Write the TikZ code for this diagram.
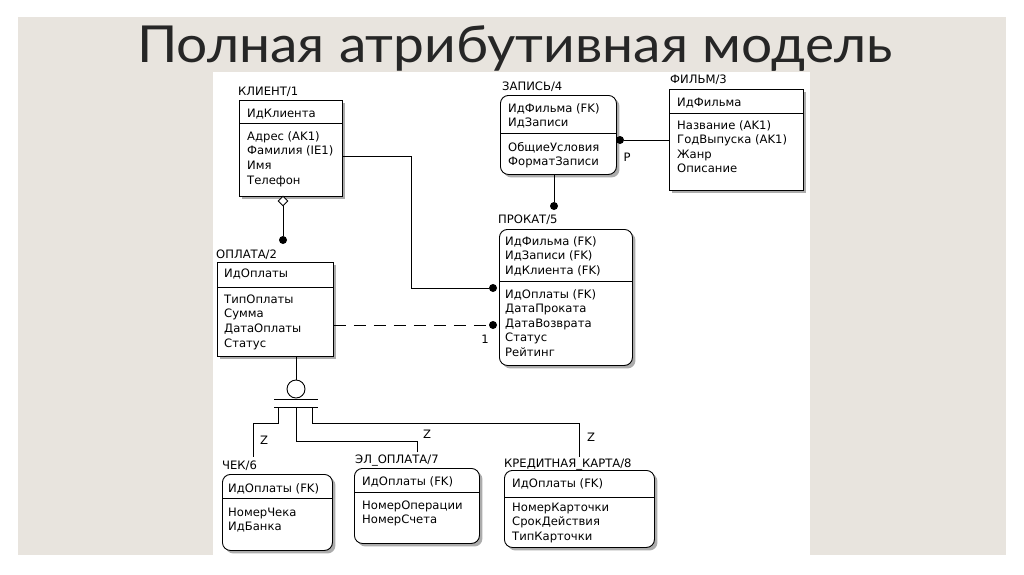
\documentclass[tikz,border=0pt]{standalone}
\usepackage{fontspec}
\usepackage{tikz}
\usetikzlibrary{arrows.meta, positioning, shapes.geometric, shadows}
\newfontfamily\erfont{DejaVu Sans}
\newfontfamily\titlefont[FakeStretch=1.08]{Lato}
\definecolor{slidebg}{HTML}{E8E4DE}

\begin{document}
\begin{tikzpicture}[
  x=1pt, y=-1pt,
  ent/.style={draw, line width=0.9pt, fill=white, anchor=north west, inner sep=0,
    general shadow={shadow xshift=3pt, shadow yshift=-3pt, fill=gray!65}},
  indep/.style={ent},
  dep/.style={ent, rounded corners=8pt},
  lbl/.style={font=\erfont\fontsize{11.6}{14.6}\selectfont, anchor=base west, inner sep=0, align=left},
  rel/.style={line width=0.9pt},
  dot/.style={circle, fill, inner sep=0, minimum size=8pt},
  nulldia/.style={diamond, draw, fill=white, line width=0.9pt, inner sep=0, minimum size=10pt}
]
  % Slide background
  \fill[white] (0,0) rectangle (1024,574);
  \fill[slidebg] (18,17) rectangle (1006,555);
  \fill[white] (213,72) rectangle (810,555);
  \node[font=\titlefont\fontsize{51}{51}\selectfont, anchor=base west, inner sep=0, text=black!85] (title) at (137,62) {Полная атрибутивная модель};

  % Entities
  \node[indep, minimum width=103pt, minimum height=96pt] (klient) at (239,100) {};
  \node[indep, minimum width=116pt, minimum height=94pt] (oplata) at (217,262) {};
  \node[dep, minimum width=116pt, minimum height=79pt] (zapis) at (500,95) {};
  \node[indep, minimum width=134pt, minimum height=101pt] (film) at (669,89) {};
  \node[dep, minimum width=133pt, minimum height=136pt] (prokat) at (499,229) {};
  \node[dep, minimum width=110pt, minimum height=76pt] (chek) at (222,474) {};
  \node[dep, minimum width=125pt, minimum height=75pt] (elopl) at (354,468) {};
  \node[dep, minimum width=150pt, minimum height=77pt] (kkarta) at (504,470) {};

  % Key / non-key dividers
  \draw[rel] (klient.west |- 0,123) -- (klient.east |- 0,123);
  \draw[rel] (oplata.west |- 0,287) -- (oplata.east |- 0,287);
  \draw[rel] (zapis.west |- 0,133) -- (zapis.east |- 0,133);
  \draw[rel] (film.west |- 0,113) -- (film.east |- 0,113);
  \draw[rel] (prokat.west |- 0,281) -- (prokat.east |- 0,281);
  \draw[rel] (chek.west |- 0,498) -- (chek.east |- 0,498);
  \draw[rel] (elopl.west |- 0,492) -- (elopl.east |- 0,492);
  \draw[rel] (kkarta.west |- 0,497) -- (kkarta.east |- 0,497);

  % Names
  \node[lbl] (klient-name) at (238,95) {КЛИЕНТ/1};
  \node[lbl] (oplata-name) at (216,258) {ОПЛАТА/2};
  \node[lbl] (zapis-name) at (502,90) {ЗАПИСЬ/4};
  \node[lbl] (film-name) at (670,83) {ФИЛЬМ/3};
  \node[lbl] (prokat-name) at (498,223) {ПРОКАТ/5};
  \node[lbl] (chek-name) at (222,469) {ЧЕК/6};
  \node[lbl] (elopl-name) at (355,463) {ЭЛ\_ОПЛАТА/7};
  \node[lbl] (kkarta-name) at (504,467) {КРЕДИТНАЯ\_КАРТА/8};

  % Attributes (placed at the baseline of the last line)
  \node[lbl] (klient-key) at (247,117) {ИдКлиента};
  \node[lbl] (klient-attr) at (247,184) {Адрес (AK1)\\Фамилия (IE1)\\Имя\\Телефон};
  \node[lbl] (oplata-key) at (224,277) {ИдОплаты};
  \node[lbl] (oplata-attr) at (224,347) {ТипОплаты\\Сумма\\ДатаОплаты\\Статус};
  \node[lbl] (zapis-key) at (508,126.6) {ИдФильма (FK)\\ИдЗаписи};
  \node[lbl] (zapis-attr) at (508,165.6) {ОбщиеУсловия\\ФорматЗаписи};
  \node[lbl] (film-key) at (677,106) {ИдФильма};
  \node[lbl] (film-attr) at (677,172.8) {Название (AK1)\\ГодВыпуска (AK1)\\Жанр\\Описание};
  \node[lbl] (prokat-key) at (505,274.2) {ИдФильма (FK)\\ИдЗаписи (FK)\\ИдКлиента (FK)};
  \node[lbl] (prokat-attr) at (505,356.4) {ИдОплаты (FK)\\ДатаПроката\\ДатаВозврата\\Статус\\Рейтинг};
  \node[lbl] (chek-key) at (228,492) {ИдОплаты (FK)};
  \node[lbl] (chek-attr) at (228,530.6) {НомерЧека\\ИдБанка};
  \node[lbl] (elopl-key) at (362,485) {ИдОплаты (FK)};
  \node[lbl] (elopl-attr) at (362,523.6) {НомерОперации\\НомерСчета};
  \node[lbl] (kkarta-key) at (512,487) {ИдОплаты (FK)};
  \node[lbl] (kkarta-attr) at (512,540.2) {НомерКарточки\\СрокДействия\\ТипКарточки};

  % Relationships
  \node[nulldia] (klient-dia) at (283,201) {};
  \node[dot] (oplata-dot) at (283,240) {};
  \draw[rel] (klient-dia) -- (oplata-dot);

  \coordinate (kp) at (411,156);
  \node[dot] (prokat-dk) at (493,288) {};
  \draw[rel] (klient.east |- kp) -- (kp) |- (prokat-dk);

  \node[dot] (prokat-dz) at (554,206) {};
  \draw[rel] (zapis.south -| prokat-dz) -- (prokat-dz);

  \node[dot] (zapis-df) at (620,140) {};
  \draw[rel] (zapis-df) -- (film.west |- zapis-df);
  \node[lbl, anchor=center] (p-lbl) at (627,157) {P};

  \node[dot] (prokat-do) at (493,325) {};
  \draw[rel, dash pattern=on 12pt off 8pt] (oplata.east |- prokat-do) -- (prokat-do);
  \node[lbl, anchor=center] (one-lbl) at (485,339) {1};

  % Categorization
  \node[circle, draw, line width=0.9pt, minimum size=18pt, inner sep=0] (cat) at (296,389) {};
  \draw[rel] (cat |- oplata.south) -- (cat);
  \draw[rel] ([shift={(-22,10)}]cat.center) -- ([shift={(22,10)}]cat.center);
  \draw[rel] ([shift={(-22,18)}]cat.center) -- ([shift={(22,18)}]cat.center);
  \coordinate (bar) at (296,407);
  \coordinate (chek-in) at (253,457);
  \coordinate (elopl-in) at (417,452);
  \coordinate (kkarta-in) at (579,457);
  \draw[rel] ([xshift=-18pt]bar) -- ++(0,16) -| (chek-in);
  \draw[rel] (bar) -- ++(0,34) -| (elopl-in);
  \draw[rel] ([xshift=16pt]bar) -- ++(0,16) -| (kkarta-in);
  \node[lbl, anchor=center] (z1) at (264,440) {Z};
  \node[lbl, anchor=center] (z2) at (427,434) {Z};
  \node[lbl, anchor=center] (z3) at (591,437) {Z};
\end{tikzpicture}
\end{document}
